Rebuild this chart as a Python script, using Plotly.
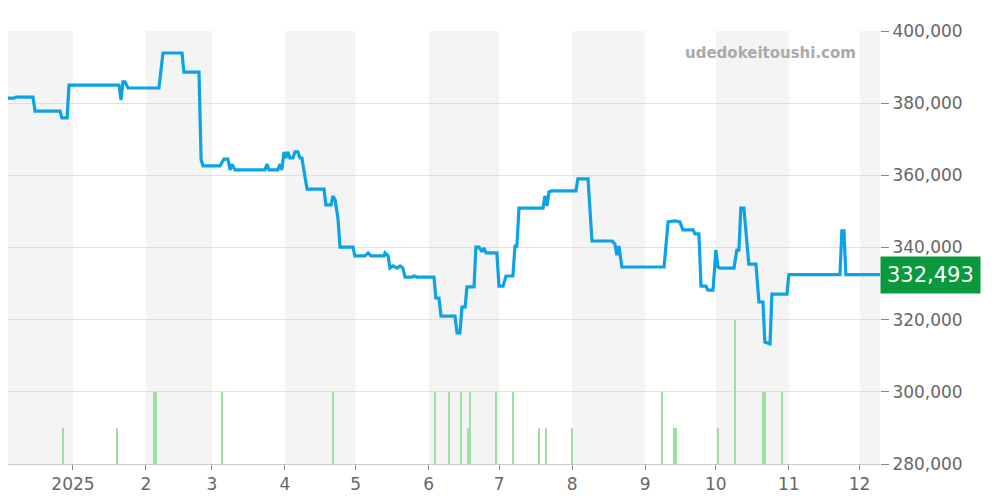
import pandas as pd
import plotly.graph_objects as go

BASE = pd.Timestamp("2024-12-01")
price_days = [0,5.9,6.8,14.0,14.9,25.5,26.3,28.5,29.3,50.5,51.4,52.2,53.1,54.4,67.5,69.2,77.3,78.1,84.5,85.4,86.2,93.4,95.1,96.8,97.7,98.5,99.8,112.5,113.4,114.2,118.0,118.9,119.7,120.6,121.4,122.3,123.1,124.4,125.3,126.5,127.4,128.2,130.4,137.6,138.4,140.6,141.4,142.3,143.5,144.4,149.9,150.7,155.0,156.3,157.5,163.1,163.5,164.8,165.6,166.9,168.6,169.9,171.1,172.0,174.9,175.8,177.1,184.3,185.1,186.4,187.3,193.2,194.1,195.3,196.2,197.5,198.3,201.3,202.1,203.4,204.7,205.5,206.4,211.0,211.9,213.6,214.9,217.8,218.7,219.5,220.4,230.6,231.4,232.3,233.1,234.4,244.6,245.4,249.7,251.4,259.9,261.1,262.0,262.8,264.1,282.0,283.7,286.6,288.7,290.0,294.3,295.1,296.8,297.7,299.8,300.6,302.8,304.0,304.9,305.7,307.9,311.7,312.9,313.8,314.6,315.9,318.0,321.0,322.3,324.0,324.8,327.0,327.8,334.2,335.0,356.7,357.5,358.4,359.2,373.7]
prices = [381400,381400,381700,381700,377800,377800,375900,375900,385000,385000,380900,385900,385900,384200,384200,393900,393900,388600,388600,364300,362600,362600,364500,364500,361500,363100,361500,361500,363100,361500,361500,363100,361500,366500,364800,366500,364800,364800,366500,366500,364800,364800,356200,356200,351800,351800,354300,353200,348200,340100,340100,337700,337700,338500,337700,337700,338500,337700,334300,334900,334300,334900,334300,331800,331800,332100,331800,331800,326000,326000,321000,321000,316300,316300,323500,323500,329100,329100,340100,340100,338800,339900,338500,338500,329300,329300,332100,332100,340400,340400,350900,350900,354300,351500,355400,355700,355700,359000,359000,341800,341800,341000,337900,340400,334600,334600,347100,347400,347100,344900,344900,343800,343800,329300,329300,328200,328200,339300,334600,334300,334300,334300,339300,339300,350900,350900,335400,335400,324900,324900,313800,313300,327100,327100,332493,332493,344600,344600,332493,332493]
vol_days = [26.8,49.7,65.4,66.2,94.3,141.4,184.7,190.7,195.8,198.7,199.6,210.6,217.8,228.9,231.8,242.9,281.1,286.2,287.0,304.9,312.1,324.0,324.8,332.1]
volumes = [1,1,2,2,2,2,2,2,2,1,2,2,2,1,1,1,2,1,1,1,4,2,2,2]
month_labels = ["2025","2","3","4","5","6","7","8","9","10","11","12"]
last_label = "332,493"

px_dates = BASE + pd.to_timedelta(price_days, unit="D")
v_dates = BASE + pd.to_timedelta(vol_days, unit="D")
start = BASE + pd.to_timedelta(3.4, unit="D")
end = BASE + pd.to_timedelta(373.7, unit="D")

fig = go.Figure()
fig.add_trace(go.Bar(x=v_dates, y=volumes, yaxis="y2", marker_color="#9ee09e",
                     marker_line_width=0, width=0.42*86400000, hoverinfo="skip"))
fig.add_trace(go.Scatter(x=px_dates, y=prices, mode="lines",
                         line=dict(color="#0ba2e6", width=3.2)))

shapes = []
months = pd.date_range("2024-12-01", "2026-01-01", freq="MS")
for i in range(0, len(months) - 1, 2):
    shapes.append(dict(type="rect", xref="x", yref="paper", x0=max(months[i], start),
                       x1=min(months[i+1], end), y0=0, y1=1,
                       fillcolor="#f4f4f4", line_width=0, layer="below"))
fig.update_layout(
    width=1000, height=500, margin=dict(l=0, r=128, t=23, b=44, autoexpand=False),
    plot_bgcolor="white", paper_bgcolor="white", showlegend=False,
    shapes=shapes, bargap=0,
    xaxis=dict(range=[start, end], tickvals=list(months[1:13]), ticktext=month_labels,
               showgrid=False, ticks="outside", ticklen=5, tickcolor="#888", automargin=False,
               tickfont=dict(size=17, color="#666", family="DejaVu Sans"),
               showline=True, linecolor="#ccc", zeroline=False),
    yaxis=dict(range=[280000, 400000], side="right", tickvals=list(range(280000, 400001, 20000)),
               tickformat=",", showgrid=True, gridcolor="#e0e0e0", ticks="outside",
               ticklen=8, tickcolor="#888", zeroline=False, automargin=False,
               tickfont=dict(size=17, color="#666", family="DejaVu Sans")),
    yaxis2=dict(range=[0, 12], overlaying="y", visible=False),
    annotations=[
        dict(text="udedokeitoushi.com", xref="paper", yref="paper", x=0.975, y=0.975,
             xanchor="right", yanchor="top", showarrow=False,
             font=dict(size=15, color="#aaa", family="DejaVu Sans", weight="bold")),
        dict(text=last_label, xref="paper", yref="y", x=1.0, y=prices[-1], xanchor="left",
             showarrow=False, bgcolor="#0a9a3e", borderpad=6,
             font=dict(size=21, color="white", family="DejaVu Sans")),
    ],
)
fig.write_html("out.html")
